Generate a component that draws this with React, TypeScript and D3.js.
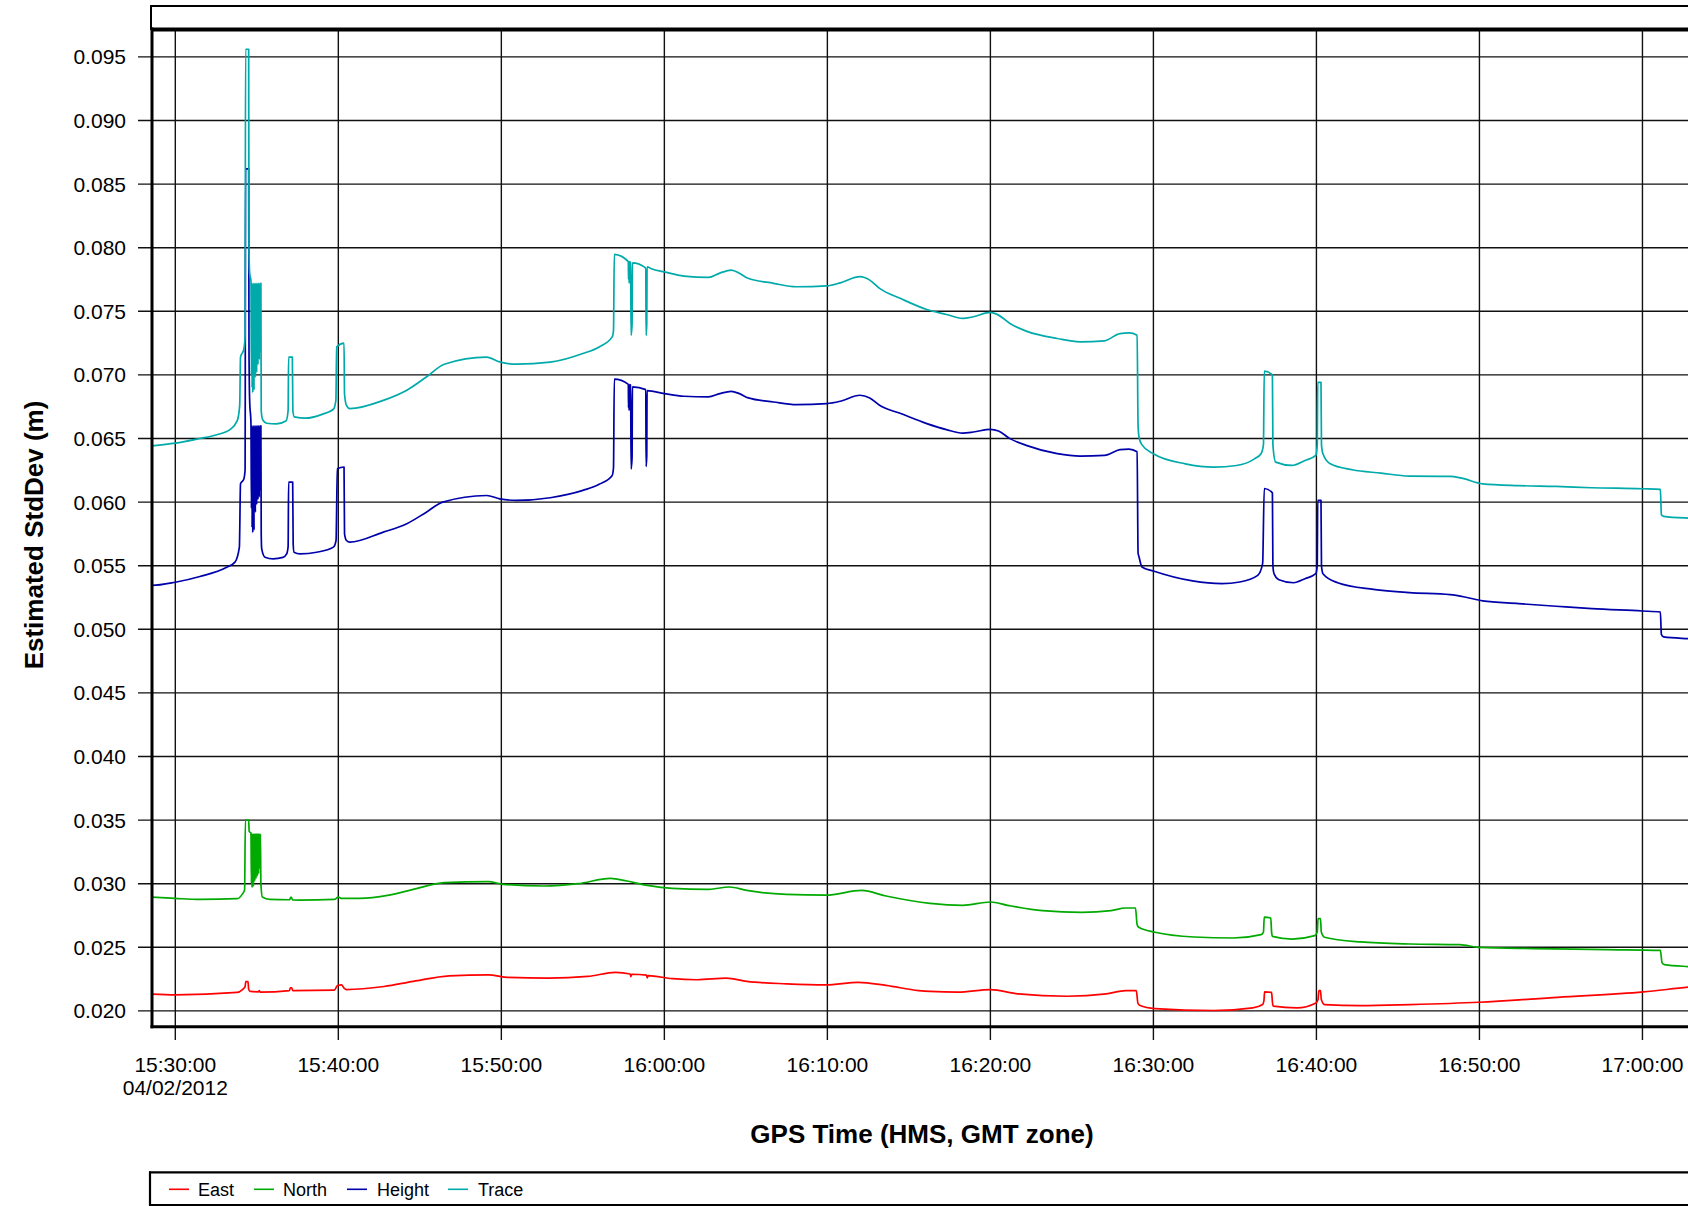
import React from "react";
import * as d3 from "d3";

// minutes after 15:30:00 GMT, 04/02/2012 ; value in metres
const EAST: [number, number][] = [
  [-1.45, 0.02132], [0, 0.02126], [3.8, 0.02145], [4.1, 0.02166], [4.28, 0.0219], [4.32, 0.0223], [4.46, 0.0223],
  [4.5, 0.0217], [4.6, 0.02153], [5.1, 0.0215], [5.15, 0.0216], [5.2, 0.02148], [7.0, 0.0216], [7.06, 0.02182],
  [7.14, 0.02182], [7.2, 0.0216], [9.75, 0.02163], [9.95, 0.022], [10.2, 0.02204], [10.35, 0.0218], [10.5, 0.02168],
  [12.8, 0.02192], [14.6, 0.02232], [16.8, 0.02276], [19.2, 0.02284], [20.4, 0.02263], [22.9, 0.02258],
  [25.3, 0.02271], [27.0, 0.02303], [27.9, 0.0229], [27.95, 0.0227], [28.0, 0.02288], [28.9, 0.02282],
  [28.95, 0.0226], [29.0, 0.02278], [30.5, 0.02253], [32.0, 0.02245], [33.8, 0.02258], [35.06, 0.02232],
  [37.5, 0.02213], [39.9, 0.02205], [41.9, 0.02224], [43.6, 0.022], [45.6, 0.0216], [46.3, 0.02153],
  [48.0, 0.02147], [50.0, 0.02168], [51.7, 0.02134], [54.7, 0.02115], [57.1, 0.02134], [58.3, 0.0216],
  [58.95, 0.0216], [59.05, 0.0206], [59.15, 0.02044], [60.1, 0.02018], [63.7, 0.02003], [66.1, 0.02024],
  [66.7, 0.0205], [66.78, 0.0208], [66.82, 0.02149], [67.25, 0.02145], [67.3, 0.0207], [67.35, 0.02037],
  [68.8, 0.02024], [69.97, 0.02063], [70.1, 0.0209], [70.15, 0.0216], [70.25, 0.0216], [70.3, 0.0209],
  [70.5, 0.0205], [72.7, 0.02042], [75.75, 0.0205], [79.97, 0.02068], [84.8, 0.02107], [90.06, 0.02149],
  [92.9, 0.02188], [94, 0.022],
];

const NORTH: [number, number][] = [
  [-1.45, 0.02895], [0, 0.02884], [1.52, 0.02876], [3.8, 0.02882], [4.1, 0.02916], [4.25, 0.0295], [4.3, 0.035],
  [4.5, 0.035], [4.53, 0.0341], [4.64, 0.034],
  [4.67, 0.03], [4.69, 0.0339], [4.71, 0.0297], [4.73, 0.0339], [4.75, 0.0305], [4.77, 0.0339], [4.79, 0.0298],
  [4.81, 0.0339], [4.83, 0.0308], [4.85, 0.0339], [4.87, 0.0302], [4.89, 0.0339], [4.91, 0.031], [4.93, 0.0339],
  [4.95, 0.0304], [4.97, 0.0339], [4.99, 0.0312], [5.01, 0.0339], [5.03, 0.0306], [5.05, 0.0339], [5.07, 0.0315],
  [5.09, 0.0339], [5.11, 0.0308], [5.13, 0.0339], [5.15, 0.0318], [5.17, 0.0339], [5.19, 0.0312], [5.22, 0.0339],
  [5.25, 0.03], [5.34, 0.02895], [5.8, 0.02876], [7.0, 0.02874], [7.1, 0.02895], [7.2, 0.02872], [7.6, 0.02871],
  [9.75, 0.02876], [10.0, 0.02895], [10.2, 0.02884], [11.3, 0.02884], [13.1, 0.0291], [14.6, 0.02955],
  [16.5, 0.03008], [19.2, 0.03016], [20.1, 0.02995], [22.6, 0.02982], [24.7, 0.03], [26.7, 0.03042],
  [27.7, 0.03021], [28.96, 0.02987], [30.5, 0.02963], [32.6, 0.02955], [34.0, 0.02974], [35.06, 0.02947],
  [37.5, 0.02916], [39.9, 0.0291], [42.1, 0.02947], [43.6, 0.02903], [46.3, 0.02845], [48.3, 0.0283],
  [50.0, 0.02856], [51.05, 0.0283], [53.2, 0.02788], [55.6, 0.02775], [57.4, 0.02788], [58.3, 0.02809],
  [58.9, 0.02809], [59.0, 0.0268], [59.1, 0.02657], [60.1, 0.02618], [62.5, 0.02581], [64.9, 0.02573],
  [66.6, 0.026], [66.75, 0.0262], [66.8, 0.02738], [67.2, 0.0273], [67.25, 0.0262], [67.3, 0.02586],
  [68.5, 0.02565], [69.9, 0.02592], [70.05, 0.0262], [70.1, 0.02725], [70.25, 0.02725], [70.3, 0.0262],
  [70.5, 0.02579], [72.7, 0.02542], [75.75, 0.02526], [78.8, 0.02521], [79.97, 0.025], [83.3, 0.0249],
  [87.8, 0.02482], [91.1, 0.02476], [91.2, 0.0238], [91.35, 0.02364], [92.9, 0.02348], [94, 0.0234],
];

const HEIGHT: [number, number][] = [
  [-1.45, 0.0541], [-1.43, 0.05345], [0, 0.0537], [1.51, 0.05415], [3.15, 0.05488], [3.66, 0.05528],
  [3.93, 0.05646], [4.0, 0.06144], [4.2, 0.0618], [4.28, 0.0625], [4.31, 0.0862], [4.5, 0.0862], [4.52, 0.072],
  [4.56, 0.068], [4.64, 0.0662],
  [4.67, 0.0595], [4.69, 0.066], [4.71, 0.058], [4.73, 0.066], [4.75, 0.0576], [4.77, 0.066], [4.79, 0.059],
  [4.81, 0.066], [4.83, 0.0578], [4.85, 0.066], [4.87, 0.06], [4.89, 0.066], [4.91, 0.0592], [4.93, 0.066],
  [4.95, 0.0605], [4.97, 0.066], [4.99, 0.0598], [5.01, 0.066], [5.03, 0.0608], [5.05, 0.066], [5.07, 0.0602],
  [5.09, 0.066], [5.11, 0.061], [5.13, 0.066], [5.15, 0.0604], [5.17, 0.066], [5.19, 0.0609], [5.22, 0.066],
  [5.25, 0.066], [5.27, 0.0575], [5.3, 0.05632], [5.5, 0.05567], [6.0, 0.05554], [6.6, 0.05565], [6.83, 0.05593],
  [6.92, 0.0565], [6.95, 0.06157], [7.2, 0.06157], [7.23, 0.0567], [7.28, 0.05606], [7.65, 0.05593],
  [8.67, 0.05606], [9.7, 0.05646], [9.86, 0.05698], [9.94, 0.06263], [10.35, 0.06276], [10.38, 0.0575],
  [10.5, 0.05698], [10.7, 0.05685], [12.76, 0.05764], [14.2, 0.0583], [15.4, 0.05921], [16.4, 0.06],
  [19.1, 0.06052], [19.9, 0.06026], [20.9, 0.06013], [23.0, 0.06034], [25.0, 0.06092], [26.0, 0.0614],
  [26.8, 0.0621], [26.88, 0.0627], [26.93, 0.06966], [27.79, 0.06926], [27.8, 0.0674], [27.82, 0.0692],
  [27.84, 0.0672], [27.86, 0.06924], [27.93, 0.0692], [27.96, 0.0626], [28.02, 0.0635], [28.04, 0.06906],
  [28.86, 0.06884], [28.88, 0.0628], [28.92, 0.0636], [28.94, 0.06876], [30.0, 0.06853], [31.2, 0.06832],
  [32.7, 0.06827], [33.4, 0.06853], [34.1, 0.06871], [34.6, 0.06853], [35.15, 0.06819], [36.7, 0.06787],
  [38.1, 0.06766], [39.96, 0.06774], [40.8, 0.06793], [42.0, 0.0684], [42.6, 0.06819], [43.2, 0.06761],
  [44.5, 0.06696], [46.1, 0.06617], [47.3, 0.0657], [48.3, 0.06543], [48.96, 0.06551], [50.0, 0.06572],
  [50.5, 0.06559], [51.2, 0.06499], [52.2, 0.06446], [54.1, 0.06381], [55.5, 0.06362], [57.0, 0.06367],
  [57.95, 0.06412], [58.5, 0.06417], [59.0, 0.06396], [59.06, 0.056], [59.12, 0.05568], [59.3, 0.0549],
  [60.0, 0.05458], [62.4, 0.0538], [64.2, 0.05359], [65.3, 0.05372], [66.4, 0.05424], [66.7, 0.05516],
  [66.8, 0.06107], [67.3, 0.06073], [67.33, 0.055], [67.4, 0.05437], [67.7, 0.0539], [68.6, 0.05366],
  [69.3, 0.05398], [69.96, 0.05437], [70.05, 0.055], [70.08, 0.06013], [70.28, 0.06013], [70.31, 0.055],
  [70.4, 0.05437], [71.3, 0.05366], [73.5, 0.05314], [75.7, 0.05288], [78.2, 0.05272], [79.1, 0.05254],
  [80.2, 0.05223], [82.4, 0.05202], [84.7, 0.05181], [86.9, 0.05162], [89.98, 0.05144], [91.1, 0.05136],
  [91.16, 0.0496], [91.3, 0.0494], [92.8, 0.04927], [94, 0.0492],
];

const TRACE: [number, number][] = [
  [-1.45, 0.06442], [0, 0.06463], [1.5, 0.065], [2.5, 0.06528], [3.35, 0.0657], [3.8, 0.0664], [3.95, 0.0676],
  [4.0, 0.0714], [4.2, 0.072], [4.28, 0.073], [4.31, 0.0956], [4.5, 0.0956], [4.52, 0.08], [4.56, 0.078],
  [4.64, 0.0774],
  [4.67, 0.07], [4.69, 0.0772], [4.71, 0.069], [4.73, 0.0772], [4.75, 0.0686], [4.77, 0.0772], [4.79, 0.0695],
  [4.81, 0.0772], [4.83, 0.0688], [4.85, 0.0772], [4.87, 0.0705], [4.89, 0.0772], [4.91, 0.0698], [4.93, 0.0772],
  [4.95, 0.071], [4.97, 0.0772], [4.99, 0.0702], [5.01, 0.0772], [5.03, 0.0715], [5.05, 0.0772], [5.07, 0.0708],
  [5.09, 0.0772], [5.11, 0.072], [5.13, 0.0772], [5.15, 0.0712], [5.17, 0.0772], [5.19, 0.0718], [5.22, 0.0772],
  [5.25, 0.0772], [5.27, 0.0672], [5.35, 0.0665], [5.6, 0.0662], [6.2, 0.06615], [6.8, 0.0664], [6.92, 0.0672],
  [6.95, 0.0714], [7.18, 0.0714], [7.21, 0.0672], [7.3, 0.0667], [8.0, 0.0666], [9.0, 0.0669], [9.7, 0.0673],
  [9.85, 0.068], [9.9, 0.0722], [10.35, 0.0725], [10.38, 0.0685], [10.5, 0.0676], [10.7, 0.06735],
  [12.76, 0.068], [14.2, 0.0688], [15.4, 0.06984], [16.5, 0.07084], [19.1, 0.0714], [19.9, 0.07102],
  [20.9, 0.07084], [23.0, 0.071], [25.0, 0.07168], [26.0, 0.0722], [26.8, 0.07299], [26.88, 0.0735],
  [26.93, 0.07948], [27.79, 0.0789], [27.8, 0.0775], [27.82, 0.0789], [27.84, 0.0772], [27.86, 0.0789],
  [27.93, 0.0788], [27.96, 0.0731], [28.02, 0.074], [28.04, 0.0788], [28.86, 0.0784], [28.88, 0.0731],
  [28.92, 0.074], [28.94, 0.0785], [29.2, 0.07835], [30.0, 0.0781], [31.2, 0.07777], [32.7, 0.07766],
  [33.4, 0.078], [34.1, 0.07824], [34.6, 0.078], [35.05, 0.07764], [36.7, 0.0772], [38.1, 0.07693],
  [39.96, 0.077], [40.8, 0.07724], [42.0, 0.07772], [42.6, 0.07745], [43.2, 0.0768], [44.5, 0.076],
  [46.1, 0.07514], [47.3, 0.07475], [48.3, 0.07444], [48.96, 0.07457], [50.0, 0.07491], [50.5, 0.0747],
  [51.2, 0.07404], [52.2, 0.07344], [54.1, 0.07286], [55.5, 0.0726], [57.0, 0.07268], [57.95, 0.07325],
  [58.5, 0.0733], [59.0, 0.07312], [59.06, 0.066], [59.12, 0.0651], [59.3, 0.0645], [60.0, 0.0638],
  [61.96, 0.06301], [63.7, 0.06275], [65.1, 0.06288], [66.2, 0.0634], [66.6, 0.0638], [66.75, 0.0645],
  [66.8, 0.07029], [67.3, 0.07], [67.33, 0.0645], [67.5, 0.06314], [68.5, 0.06288], [69.3, 0.06327],
  [69.96, 0.06367], [70.05, 0.0645], [70.08, 0.06942], [70.28, 0.06942], [70.31, 0.0645], [70.4, 0.0638],
  [70.85, 0.06301], [72.2, 0.06254], [73.96, 0.06228], [75.7, 0.06204], [78.2, 0.06202], [78.86, 0.0619],
  [80.2, 0.06144], [82.4, 0.0613], [84.7, 0.06123], [86.9, 0.06113], [89.98, 0.06105], [91.1, 0.061],
  [91.16, 0.059], [91.3, 0.05888], [92.8, 0.05874], [94, 0.0587],
];

const SERIES_NAMES = ["East", "North", "Height", "Trace"];
const SERIES_COLORS = ["#ff0000", "#00aa00", "#0000aa", "#00aaaa"];
const SERIES_DATA = [EAST, NORTH, HEIGHT, TRACE];

const Y_TICKS = d3.range(4, 20).map((i) => i * 0.005);
const X_TICK_MINUTES = d3.range(0, 91, 10);
const DATE_LABEL = "04/02/2012";
const X_TITLE = "GPS Time (HMS, GMT zone)";
const Y_TITLE = "Estimated StdDev (m)";

const BASE = Date.UTC(2012, 1, 4, 15, 30, 0);
const toDate = (m: number) => new Date(BASE + m * 60000);

const W = 1688;
const H = 1206;
const FONT = "'Liberation Sans', Arial, Helvetica, sans-serif";

export default function App() {
  const left = 152;
  const right = 1700;
  const top = 29.5;
  const bottom = 1026.7;

  const x = d3.scaleUtc().domain([toDate(-1.43), toDate(93.53)]).range([left, right]);
  const y = d3.scaleLinear().domain([0.018758, 0.097154]).range([bottom, top]);
  const fmtTime = d3.utcFormat("%H:%M:%S");
  const fmtY = d3.format(".3f");

  const line = d3
    .line<[number, number]>()
    .x((d) => x(toDate(d[0])))
    .y((d) => y(d[1]))
    .curve(d3.curveMonotoneX);

  const legendItems = [
    { lx: 169, tx: 198 },
    { lx: 254, tx: 283 },
    { lx: 347, tx: 377 },
    { lx: 448, tx: 478 },
  ];

  return (
    <svg
      width={W}
      height={H}
      style={{ position: "absolute", left: 0, top: 0, background: "#fff", overflow: "hidden" }}
      fontFamily={FONT}
    >
      <defs>
        <clipPath id="plotclip">
          <rect x={left} y={top} width={right - left} height={bottom - top} />
        </clipPath>
      </defs>
      <rect x={0} y={0} width={W} height={H} fill="#fff" />

      {/* header box */}
      <line x1={150} x2={W + 10} y1={6} y2={6} stroke="#000" strokeWidth={2} />
      <line x1={151} x2={151} y1={5} y2={30} stroke="#000" strokeWidth={2} />

      {/* horizontal grid + ticks */}
      {Y_TICKS.map((v) => (
        <g key={"y" + v}>
          <line x1={138} x2={right} y1={y(v)} y2={y(v)} stroke="#111" strokeWidth={1.4} />
          <text x={126} y={y(v)} dy="0.36em" textAnchor="end" fontSize={21} fill="#000">
            {fmtY(v)}
          </text>
        </g>
      ))}

      {/* vertical grid + ticks */}
      {X_TICK_MINUTES.map((m) => {
        const px = x(toDate(m));
        return (
          <g key={"x" + m}>
            <line x1={px} x2={px} y1={top} y2={1040} stroke="#111" strokeWidth={1.4} />
            <text x={px} y={1071.5} textAnchor="middle" fontSize={21} fill="#000">
              {fmtTime(toDate(m))}
            </text>
          </g>
        );
      })}
      <text x={x(toDate(0))} y={1095} textAnchor="middle" fontSize={21} fill="#000">
        {DATE_LABEL}
      </text>

      {/* series */}
      <g clipPath="url(#plotclip)">
        {SERIES_DATA.map((data, i) => (
          <path
            key={SERIES_NAMES[i]}
            d={line(data) || ""}
            fill="none"
            stroke={SERIES_COLORS[i]}
            strokeWidth={1.7}
            strokeLinejoin="round"
          />
        ))}
      </g>

      {/* frame */}
      <line x1={left} x2={W + 10} y1={top} y2={top} stroke="#000" strokeWidth={4} />
      <line x1={left} x2={left} y1={top - 2} y2={bottom + 1.5} stroke="#000" strokeWidth={3} />
      <line x1={left - 1.5} x2={W + 10} y1={bottom} y2={bottom} stroke="#000" strokeWidth={3} />

      {/* axis titles */}
      <text x={922} y={1143} textAnchor="middle" fontSize={26} fontWeight="bold" fill="#000">
        {X_TITLE}
      </text>
      <text
        transform={`translate(43, 535) rotate(-90)`}
        textAnchor="middle"
        fontSize={26}
        fontWeight="bold"
        fill="#000"
      >
        {Y_TITLE}
      </text>

      {/* legend */}
      <line x1={149} x2={W + 10} y1={1172.3} y2={1172.3} stroke="#000" strokeWidth={2.2} />
      <line x1={150} x2={150} y1={1171.5} y2={1206} stroke="#000" strokeWidth={2.2} />
      <line x1={149} x2={W + 10} y1={1205} y2={1205} stroke="#000" strokeWidth={2} />
      {SERIES_NAMES.map((name, i) => (
        <g key={"lg" + name}>
          <line
            x1={legendItems[i].lx}
            x2={legendItems[i].lx + 20}
            y1={1189.3}
            y2={1189.3}
            stroke={SERIES_COLORS[i]}
            strokeWidth={1.6}
          />
          <text x={legendItems[i].tx} y={1196} fontSize={18} fill="#000">
            {name}
          </text>
        </g>
      ))}
    </svg>
  );
}
